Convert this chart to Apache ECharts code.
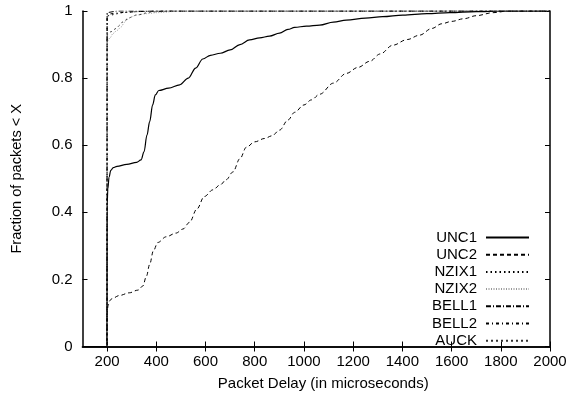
<!DOCTYPE html>
<html><head><meta charset="utf-8">
<script src="https://cdn.jsdelivr.net/npm/echarts@6/dist/echarts.min.js"></script>
<style>html,body{margin:0;padding:0;background:#fff}#c{width:570px;height:397px}</style>
</head><body><div id="c"></div>
<script>
const seriesNames = ['UNC1','UNC2','NZIX1','NZIX2','BELL1','BELL2','AUCK'];
const xTicks = [200,400,600,800,1000,1200,1400,1600,1800,2000];
const yTicks = [0,0.2,0.4,0.6,0.8,1];
const unc1 = [[100,0],[199.6,0],[200,0.42],[203,0.47],[208,0.505],[215,0.525],[225,0.533],[240,0.537],[280,0.543],[320,0.549],[338,0.556],[350,0.58],[362,0.63],[373,0.67],[385,0.72],[396,0.75],[410,0.763],[450,0.77],[495,0.78],[530,0.8],[560,0.83],[589,0.857],[620,0.868],[660,0.874],[700,0.884],[740,0.9],[779,0.914],[820,0.92],[860,0.925],[901,0.934],[935,0.945],[962,0.951],[1010,0.955],[1064,0.958],[1120,0.967],[1172,0.973],[1250,0.979],[1320,0.983],[1402,0.988],[1500,0.992],[1592,0.995],[1700,0.998],[1800,1],[2000,1]];
const unc2 = [[100,0],[199.6,0],[200,0.1],[204,0.122],[210,0.136],[220,0.143],[250,0.152],[290,0.16],[325,0.168],[345,0.18],[360,0.21],[373,0.245],[388,0.285],[406,0.31],[440,0.327],[480,0.338],[508,0.35],[535,0.37],[565,0.41],[595,0.447],[630,0.467],[660,0.482],[684,0.497],[711,0.52],[740,0.56],[766,0.594],[800,0.61],[840,0.62],[870,0.628],[901,0.645],[935,0.675],[962,0.698],[1000,0.72],[1030,0.735],[1064,0.752],[1120,0.785],[1172,0.814],[1220,0.832],[1267,0.85],[1310,0.872],[1361,0.898],[1420,0.915],[1470,0.928],[1520,0.948],[1560,0.962],[1600,0.969],[1650,0.977],[1700,0.986],[1768,0.995],[1830,1],[2000,1]];
const nzix1 = [[100,0],[199.6,0],[200,0.985],[230,0.99],[260,0.995],[320,0.998],[380,1],[2000,1]];
const nzix2 = [[100,0],[199.6,0],[200,0.909],[212,0.92],[224,0.933],[240,0.942],[258,0.953],[270,0.966],[282,0.975],[300,0.983],[319,0.988],[360,0.992],[400,0.995],[500,1],[2000,1]];
const bell1 = [[100,0],[199.6,0],[200,0.995],[240,1],[2000,1]];
const bell2 = [[100,0],[199.6,0],[200,0.99],[250,0.995],[320,0.998],[400,1],[2000,1]];
const auck = [[100,0],[199.6,0],[200,0.928],[215,0.938],[237,0.948],[252,0.958],[264,0.968],[290,0.98],[319,0.988],[380,0.997],[450,1],[2000,1]];

const seriesData = [unc1, unc2, nzix1, nzix2, bell1, bell2, auck];
const styles = [
  {type:'solid', color:'#000', width:1.2, smooth:0.35},
  {type:[4,3], color:'#000', width:1, smooth:0.35},
  {type:[1.5,3], color:'#000', width:1, smooth:0},
  {type:[1,1.5], color:'#999', width:1, smooth:0.3},
  {type:[5,2,1,2], color:'#000', width:1, smooth:0},
  {type:[3,3,1,3], color:'#000', width:1, smooth:0},
  {type:[2,3], color:'#333', width:1, smooth:0.3}
];
const font = 'Liberation Sans, Arial, sans-serif';
const FS = 15;
const chart = echarts.init(document.getElementById('c'), null, {renderer:'canvas'});
const axisCommon = {
  axisLine:{show:true, lineStyle:{color:'#000', width:1.5}},
  axisTick:{show:true, inside:true, length:5, lineStyle:{color:'#000', width:1}},
  splitLine:{show:false}
};
const plain = v => String(Math.round(v*1000)/1000);
chart.setOption({
  animation:false,
  backgroundColor:'#fff',
  grid:{left:82.5, right:20, top:11, bottom:50.5},
  legend:{
    data: seriesNames,
    orient:'vertical', right:40, top:230, align:'right', padding:0,
    itemWidth:43, itemHeight:14, itemGap:2.2,
    itemStyle:{opacity:0},
    textStyle:{fontFamily:font, fontSize:FS, color:'#000', lineHeight:14, padding:[0,4,0,0]}
  },
  xAxis:[
    Object.assign({type:'value', min:100, max:2000, position:'bottom',
      name:'Packet Delay (in microseconds)', nameLocation:'middle', nameGap:30,
      nameTextStyle:{fontFamily:font, fontSize:FS, color:'#000', padding:[0,0,0,14]},
      axisLabel:{customValues:xTicks, formatter:plain, fontFamily:font, fontSize:FS, color:'#000', margin:8},
    }, axisCommon, {axisTick:Object.assign({}, axisCommon.axisTick, {customValues:xTicks})}),
    Object.assign({type:'value', min:100, max:2000, position:'top',
      axisLabel:{show:false}}, axisCommon, {axisTick:Object.assign({}, axisCommon.axisTick, {customValues:xTicks})})
  ],
  yAxis:[
    Object.assign({type:'value', min:0, max:1, interval:0.2, position:'left',
      name:'Fraction of packets < X', nameLocation:'middle', nameGap:58,
      nameTextStyle:{fontFamily:font, fontSize:14.6, color:'#000'},
      axisLabel:{formatter:plain, fontFamily:font, fontSize:FS, color:'#000', margin:10}}, axisCommon),
    Object.assign({type:'value', min:0, max:1, interval:0.2, position:'right',
      axisLabel:{show:false}}, axisCommon)
  ],
  series: seriesNames.map((n,i)=>({
    name:n, type:'line', data:seriesData[i], symbol:'none', showSymbol:false,
    smooth:styles[i].smooth, smoothMonotone:'x',
    xAxisIndex:0, yAxisIndex:0,
    lineStyle:{type:styles[i].type, color:styles[i].color, width:styles[i].width},
    itemStyle:{color:styles[i].color},
    z: 10-i
  }))
});
</script></body></html>
